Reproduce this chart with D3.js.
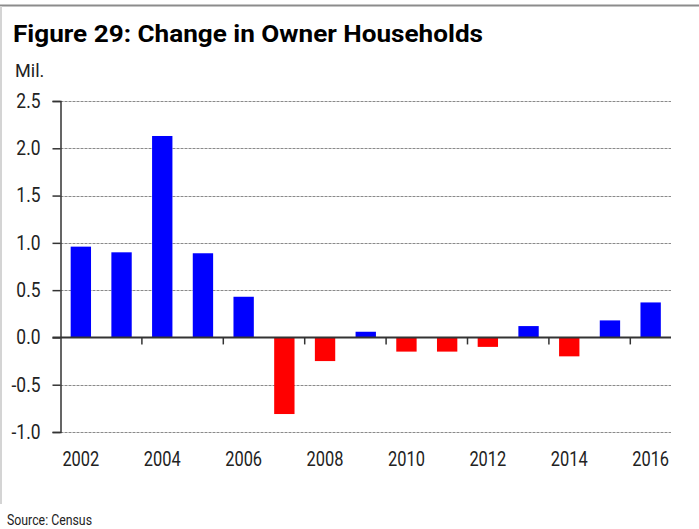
<!DOCTYPE html>
<html>
<head>
<meta charset="utf-8">
<script src="https://cdn.jsdelivr.net/npm/d3@7"></script>
<style>
  body { margin: 0; background: #fff; }
  svg { display: block; }
  .narrow { font-family: Roboto, "Liberation Sans", sans-serif; }
</style>
</head>
<body>
<div id="chart"></div>
<script>
// --- data ---
let years = ["2002","2003","2004","2005","2006","2007","2008","2009","2010","2011","2012","2013","2014","2015","2016"];
let owner_change = [0.96, 0.90, 2.13, 0.89, 0.43, -0.81, -0.25, 0.06, -0.15, -0.15, -0.10, 0.12, -0.20, 0.18, 0.37];
let y_ticks = [-1.0, -0.5, 0.0, 0.5, 1.0, 1.5, 2.0, 2.5];
let x_labels = ["2002","2004","2006","2008","2010","2012","2014","2016"];
let x_tick_years = ["2004","2006","2008","2010","2012","2014","2016"]; // tick sits at left edge of these slots

let width = 699, height = 529;
let plot = {left: 60.5, right: 671, top: 101, bottom: 432};

// squeeze text horizontally (no condensed face installed)
function squeeze(sel, k){
  sel.each(function(){
    let w = this.getComputedTextLength();
    d3.select(this)
      .attr("textLength", w * k)
      .attr("lengthAdjust", "spacingAndGlyphs");
  });
}

let svg = d3.select("#chart")
    .append("svg")
    .attr("width", width)
    .attr("height", height);

// frame
svg.append("line")
    .attr("x1", 0).attr("x2", width)
    .attr("y1", 5.5).attr("y2", 5.5)
    .attr("stroke", "#8c8c8c")
    .attr("stroke-width", 2);
svg.append("line")
    .attr("x1", 1).attr("x2", 1)
    .attr("y1", 6).attr("y2", 504)
    .attr("stroke", "#d4d4d4")
    .attr("stroke-width", 2);

// title
svg.append("text")
    .attr("class", "narrow")
    .attr("x", 13).attr("y", 42)
    .attr("font-size", 24)
    .attr("font-weight", "bold")
    .attr("fill", "#000")
    .attr("textLength", 470)
    .attr("lengthAdjust", "spacingAndGlyphs")
    .text("Figure 29: Change in Owner Households");

svg.append("text")
    .attr("class", "narrow")
    .attr("x", 15).attr("y", 77)
    .attr("font-size", 19)
    .attr("fill", "#222")
    .text("Mil.")
    .call(squeeze, 0.95);

svg.append("text")
    .attr("class", "narrow")
    .attr("x", 7).attr("y", 525)
    .attr("font-size", 14)
    .attr("fill", "#222")
    .attr("textLength", 85)
    .attr("lengthAdjust", "spacingAndGlyphs")
    .text("Source: Census");

// scales
let x = d3.scaleBand()
    .domain(years)
    .range([plot.left, plot.right])
    .paddingInner(0.5)
    .paddingOuter(0.25);

let y = d3.scaleLinear()
    .domain([-1, 2.5])
    .range([plot.bottom, plot.top]);

// gridlines
svg.append("g")
    .selectAll("line")
    .data(y_ticks.filter(d => d !== 0))
    .enter()
    .append("line")
    .attr("x1", plot.left)
    .attr("x2", plot.right)
    .attr("y1", d => Math.round(y(d)) + 0.5)
    .attr("y2", d => Math.round(y(d)) + 0.5)
    .attr("stroke", "#8a8a8a")
    .attr("stroke-width", 1)
    .attr("stroke-dasharray", "3,1");

// y axis
let y_axis = svg.append("g")
    .attr("transform", "translate(" + plot.left + ",0)")
    .call(d3.axisLeft(y).tickValues(y_ticks).tickSize(8).tickPadding(12));
y_axis.select(".domain").attr("stroke", "#333").attr("stroke-width", 1.5);
y_axis.selectAll(".tick line").attr("stroke", "#333").attr("stroke-width", 1.5);
y_axis.selectAll("text")
    .attr("class", "narrow")
    .attr("font-size", 20)
    .attr("fill", "#222")
    .text(d => d3.format(".1f")(d).replace("−", "-"))
    .call(squeeze, 0.87);

// bars
svg.append("g")
    .selectAll("rect")
    .data(owner_change)
    .enter()
    .append("rect")
    .attr("x", (d, i) => x(years[i]))
    .attr("width", x.bandwidth())
    .attr("y", d => y(Math.max(0, d)))
    .attr("height", d => Math.abs(y(d) - y(0)))
    .attr("fill", d => d >= 0 ? "#0000ff" : "#ff0000");

// zero line + x ticks
svg.append("line")
    .attr("x1", plot.left - 8).attr("x2", plot.right)
    .attr("y1", y(0)).attr("y2", y(0))
    .attr("stroke", "#333")
    .attr("stroke-width", 2);

svg.append("g")
    .selectAll("line")
    .data(x_tick_years)
    .enter()
    .append("line")
    .attr("x1", d => x(d) - x.step() * x.paddingInner() / 2)
    .attr("x2", d => x(d) - x.step() * x.paddingInner() / 2)
    .attr("y1", y(0))
    .attr("y2", y(0) + 7)
    .attr("stroke", "#333")
    .attr("stroke-width", 1.5);

svg.append("g")
    .selectAll("text")
    .data(x_labels)
    .enter()
    .append("text")
    .attr("class", "narrow")
    .attr("x", d => x(d) + x.bandwidth() / 2)
    .attr("y", 466)
    .attr("text-anchor", "middle")
    .attr("font-size", 20)
    .attr("fill", "#222")
    .text(d => d)
    .call(squeeze, 0.82);
</script>
</body>
</html>
